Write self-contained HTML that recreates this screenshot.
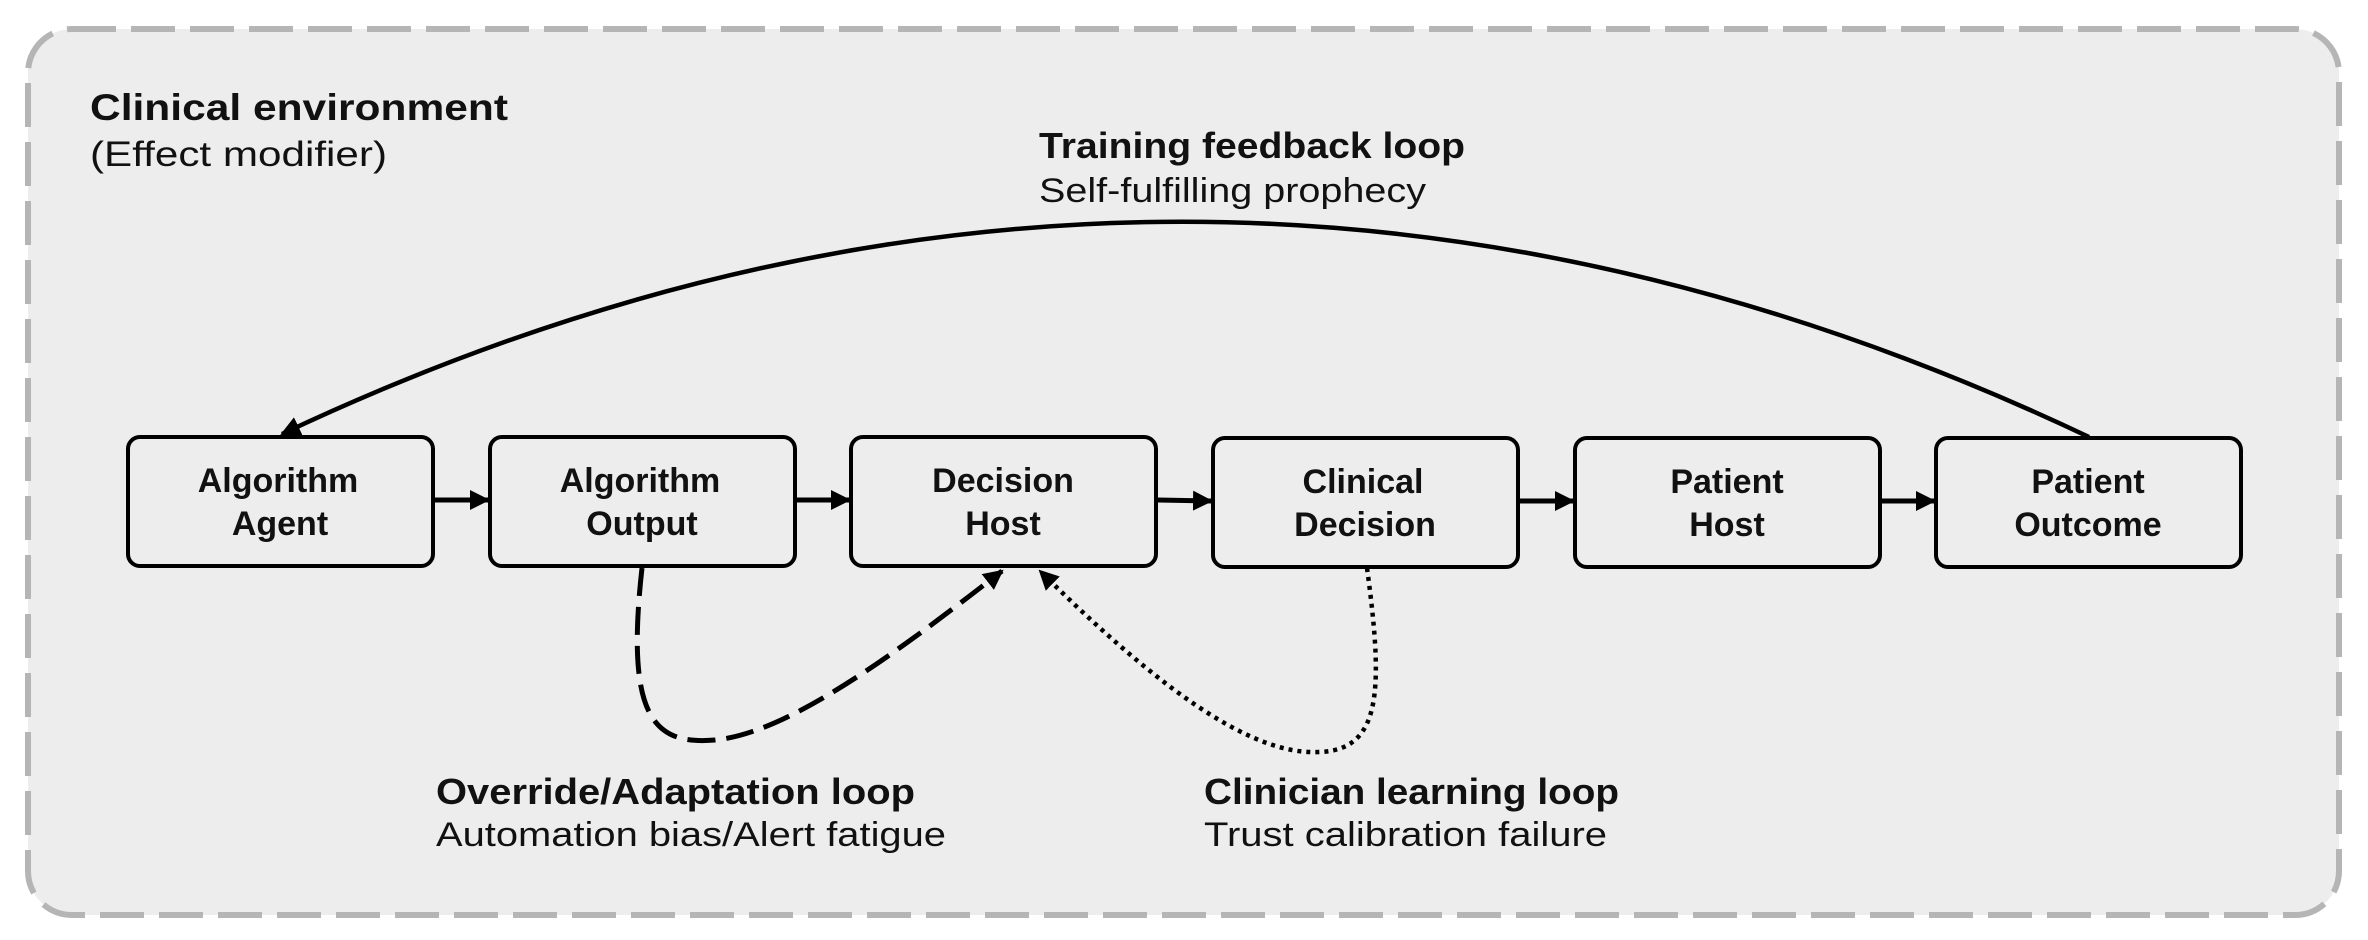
<!DOCTYPE html>
<html><head><meta charset="utf-8"><style>
html,body{margin:0;padding:0;background:#fff;}
svg{display:block;}
text{font-family:"Liberation Sans","DejaVu Sans",sans-serif;fill:#111;}
.b{font-weight:bold;}
</style></head><body>
<svg width="2368" height="940" viewBox="0 0 2368 940" xmlns="http://www.w3.org/2000/svg">
<defs>
<marker id="ah" markerUnits="userSpaceOnUse" markerWidth="22" markerHeight="22" refX="18" refY="10" orient="auto">
<path d="M0,0 L20,10 L0,20 Z" fill="#000"/>
</marker>
</defs>
<rect x="28" y="29" width="2311" height="886" rx="44" fill="#ededed" stroke="#b5b5b5" stroke-width="6" stroke-dasharray="44 15"/>
<text x="90" y="120" font-size="37" class="b" textLength="418" lengthAdjust="spacingAndGlyphs">Clinical environment</text>
<text x="90" y="166" font-size="35" textLength="297" lengthAdjust="spacingAndGlyphs">(Effect modifier)</text>
<text x="1039" y="158" font-size="36" class="b" textLength="426" lengthAdjust="spacingAndGlyphs">Training feedback loop</text>
<text x="1039" y="202" font-size="34" textLength="387" lengthAdjust="spacingAndGlyphs">Self-fulfilling prophecy</text>
<text x="436" y="804" font-size="36" class="b" textLength="479" lengthAdjust="spacingAndGlyphs">Override/Adaptation loop</text>
<text x="436" y="846" font-size="34" textLength="510" lengthAdjust="spacingAndGlyphs">Automation bias/Alert fatigue</text>
<text x="1204" y="804" font-size="36" class="b" textLength="415" lengthAdjust="spacingAndGlyphs">Clinician learning loop</text>
<text x="1204" y="846" font-size="34" textLength="403" lengthAdjust="spacingAndGlyphs">Trust calibration failure</text>
<g fill="#ededed" stroke="#000" stroke-width="4">
<rect x="128" y="437" width="305" height="129" rx="12"/>
<rect x="490" y="437" width="305" height="129" rx="12"/>
<rect x="851" y="437" width="305" height="129" rx="12"/>
<rect x="1213" y="438" width="305" height="129" rx="12"/>
<rect x="1575" y="438" width="305" height="129" rx="12"/>
<rect x="1936" y="438" width="305" height="129" rx="12"/>
</g>
<g font-size="34" class="b" text-anchor="middle">
<text x="278" y="492" class="b">Algorithm</text><text x="280" y="535" class="b">Agent</text>
<text x="640" y="492" class="b">Algorithm</text><text x="642" y="535" class="b">Output</text>
<text x="1003" y="492" class="b">Decision</text><text x="1003" y="535" class="b">Host</text>
<text x="1363" y="493" class="b">Clinical</text><text x="1365" y="536" class="b">Decision</text>
<text x="1727" y="493" class="b">Patient</text><text x="1727" y="536" class="b">Host</text>
<text x="2088" y="493" class="b">Patient</text><text x="2088" y="536" class="b">Outcome</text>
</g>
<g stroke="#000" stroke-width="5" fill="none">
<line x1="435" y1="500" x2="488" y2="500" marker-end="url(#ah)"/>
<line x1="797" y1="500" x2="849" y2="500" marker-end="url(#ah)"/>
<line x1="1158" y1="500" x2="1211" y2="501" marker-end="url(#ah)"/>
<line x1="1520" y1="501" x2="1573" y2="501" marker-end="url(#ah)"/>
<line x1="1882" y1="501" x2="1934" y2="501" marker-end="url(#ah)"/>
<path d="M2089,437 Q1185,8 282,434" stroke-width="4.5" marker-end="url(#ah)"/>
<path d="M642,568 C625,720 655,745 715,740 C790,733 900,650 1002,571" stroke-width="5" stroke-dasharray="28 11" marker-end="url(#ah)"/>
<path d="M1367,568 C1385,700 1380,755 1310,752 C1230,750 1120,650 1040,571" stroke-width="4.5" stroke-dasharray="4 5" marker-end="url(#ah)"/>
</g>
</svg>
</body></html>
